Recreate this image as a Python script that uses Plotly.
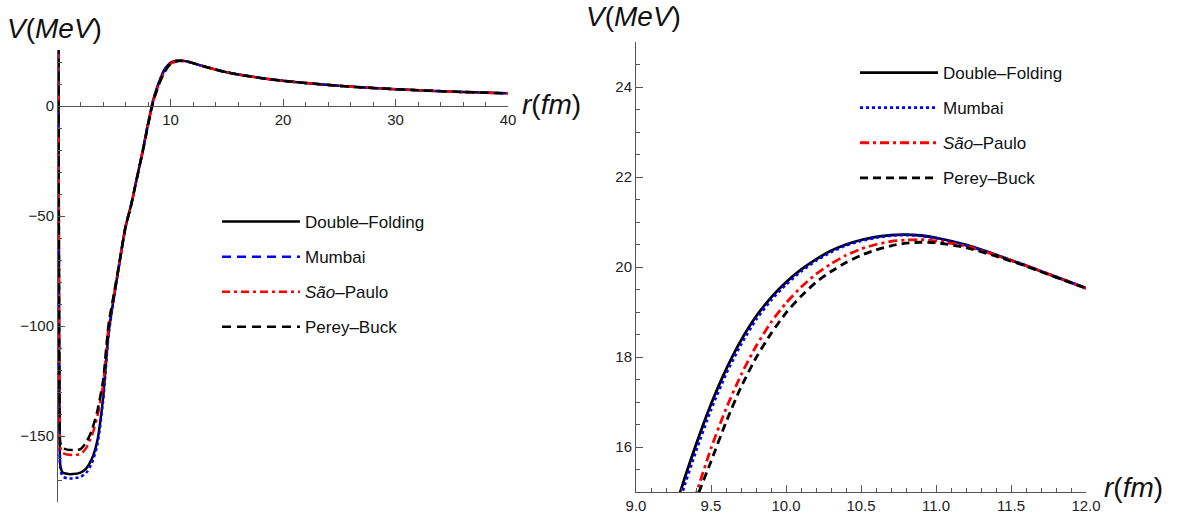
import plotly.graph_objects as go

# ---------------- data: full range (left panel) ----------------
r_full = [0.02, 0.06, 0.1, 0.15, 0.2, 0.4, 0.8, 1.3, 2.0, 2.5, 3.0, 3.5, 4.0, 4.5,
          5.0, 5.5, 6.0, 6.5, 7.0, 7.5, 8.0, 8.5, 9.0, 9.5, 10.0, 10.5, 10.75,
          11.0, 11.5, 12.0, 13.0, 14.0, 15.0, 16.0, 18.0, 20.0, 22.0, 25.0,
          28.0, 30.0, 33.0, 36.0, 40.0]
v_df_full = [60, -20, -110, -150, -163, -166.5, -167.2, -167.3, -166.6, -164.8, -160.5,
             -152, -133, -103, -86, -70, -55, -45, -33, -21, -8, 3.5, 11.2, 16.9,
             19.66, 20.6, 20.72, 20.65, 20.3, 19.53, 18.0, 16.6, 15.4, 14.4, 12.8,
             11.5, 10.5, 9.2, 8.2, 7.7, 7.0, 6.4, 5.8]
v_mu_full = [60, -20, -110, -151, -164.5, -168.3, -169.2, -169.3, -168.6, -166.8, -162.5,
             -154, -134.5, -104, -86.5, -70, -55, -45, -33, -21.1, -8.1, 3.4, 11.1, 16.8,
             19.61, 20.58, 20.71, 20.64, 20.3, 19.53, 18.0, 16.6, 15.4, 14.4, 12.8,
             11.5, 10.5, 9.2, 8.2, 7.7, 7.0, 6.4, 5.8]
v_sp_full = [60, -20, -108, -145, -155, -157.6, -158.4, -158.6, -158.2, -155.5, -150,
             -141, -127, -100, -85, -70, -55, -45, -33, -21.4, -8.6, 2.8, 10.4, 16.0,
             19.2, 20.4, 20.59, 20.58, 20.3, 19.53, 18.0, 16.6, 15.4, 14.4, 12.8,
             11.5, 10.5, 9.2, 8.2, 7.7, 7.0, 6.4, 5.8]
v_pb_full = [60, -20, -107, -143, -153, -155.4, -156.2, -156.4, -156.0, -153, -147.5,
             -138.5, -125, -99, -84.5, -70, -55, -45, -33, -21.6, -8.8, 2.5, 10.1, 15.7,
             18.98, 20.26, 20.51, 20.54, 20.28, 19.53, 18.0, 16.6, 15.4, 14.4, 12.8,
             11.5, 10.5, 9.2, 8.2, 7.7, 7.0, 6.4, 5.8]

# ---------------- data: barrier region (right panel) ----------------
r_zoom = [9.2, 9.3, 9.4, 9.5, 9.6, 9.7, 9.8, 9.9, 10.0, 10.1, 10.2, 10.3, 10.4, 10.5,
          10.6, 10.7, 10.8, 10.9, 11.0, 11.2, 11.4, 11.6, 11.8, 12.0]
v_df_zoom = [13.9, 15.05, 16.05, 16.95, 17.72, 18.37, 18.9, 19.32, 19.66, 19.94, 20.17, 20.36,
             20.5, 20.6, 20.67, 20.71, 20.72, 20.7, 20.65, 20.49, 20.27, 20.03, 19.78, 19.53]
v_mu_zoom = [13.75, 14.9, 15.91, 16.83, 17.62, 18.28, 18.83, 19.26, 19.61, 19.9, 20.14, 20.33,
             20.48, 20.58, 20.65, 20.7, 20.71, 20.69, 20.64, 20.48, 20.27, 20.03, 19.78, 19.53]
v_sp_zoom = [12.7, 13.9, 14.95, 15.97, 16.85, 17.6, 18.24, 18.77, 19.2, 19.55, 19.84, 20.07,
             20.26, 20.4, 20.5, 20.57, 20.6, 20.61, 20.58, 20.46, 20.26, 20.03, 19.78, 19.53]
v_pb_zoom = [12.5, 13.75, 14.82, 15.68, 16.55, 17.33, 17.98, 18.52, 18.98, 19.35, 19.66, 19.9,
             20.1, 20.26, 20.38, 20.47, 20.53, 20.55, 20.54, 20.43, 20.24, 20.02, 19.77, 19.53]

names = ["Double–Folding", "Mumbai", "<i>São</i>–Paulo", "Perey–Buck"]

W, H = 1178, 520
FONT = "Liberation Sans, Arial, sans-serif"
AX = "#555555"


def px_x(p):
    return p / W


def px_y(p):
    return 1 - p / H


fig = go.Figure()

left_styles = [
    dict(color="black", width=2.5, dash="solid"),
    dict(color="#0000FF", width=2.5, dash="3px,3px"),
    dict(color="#FF0000", width=2.5, dash="9px,4px,3px,4px"),
    dict(color="black", width=2.5, dash="9px,5px"),
]
left_legend_styles = [
    dict(color="black", width=2.5, dash="solid"),
    dict(color="#0000FF", width=2.5, dash="9px,6px"),
    dict(color="#FF0000", width=2.5, dash="8px,4px,3px,4px"),
    dict(color="black", width=2.5, dash="9px,6px"),
]
right_styles = [
    dict(color="black", width=2.8, dash="solid"),
    dict(color="#0000FF", width=2.8, dash="3px,3px"),
    dict(color="#FF0000", width=2.8, dash="9px,4px,3px,4px"),
    dict(color="black", width=2.8, dash="8px,5px"),
]

left_series = [v_df_full, v_mu_full, v_sp_full, v_pb_full]
right_series = [v_df_zoom, v_mu_zoom, v_sp_zoom, v_pb_zoom]

for i, v in enumerate(left_series):
    fig.add_trace(go.Scatter(x=r_full, y=v, mode="lines",
                             line=dict(left_styles[i], shape="spline", smoothing=0.6),
                             showlegend=False, xaxis="x", yaxis="y", hoverinfo="skip"))
for i in range(4):
    fig.add_trace(go.Scatter(x=[None], y=[None], mode="lines", line=left_legend_styles[i],
                             name=names[i], legend="legend", legendgroup=f"L{i}",
                             xaxis="x", yaxis="y"))
for i, v in enumerate(right_series):
    fig.add_trace(go.Scatter(x=r_zoom, y=v, mode="lines",
                             line=dict(right_styles[i], shape="spline", smoothing=0.6),
                             name=names[i], legend="legend2", legendgroup=f"R{i}",
                             xaxis="x2", yaxis="y2", hoverinfo="skip"))

axis_common = dict(showgrid=False, zeroline=False, showline=True, linecolor=AX, linewidth=1,
                   ticks="inside", tickcolor=AX, ticklen=7, tickwidth=1,
                   tickfont=dict(family=FONT, size=15, color="#222222"), automargin=False)

leg_common = dict(xanchor="left", yanchor="top", bgcolor="rgba(0,0,0,0)", borderwidth=0,
                  itemwidth=78, font=dict(family=FONT, size=17, color="#111111"),
                  tracegroupgap=10, itemclick=False, itemdoubleclick=False)

fig.update_layout(
    width=W, height=H,
    margin=dict(l=0, r=0, t=0, b=0),
    paper_bgcolor="white", plot_bgcolor="rgba(0,0,0,0)",
    template="none",
    font=dict(family=FONT, color="#222222"),
    xaxis=dict(axis_common, domain=[px_x(58), px_x(508)], range=[0, 40],
               tickvals=[10, 20, 30, 40], anchor="free", position=px_y(106),
               minor=dict(ticks="inside", ticklen=4, dtick=2, tick0=0, tickcolor=AX, showgrid=False)),
    yaxis=dict(axis_common, domain=[px_y(502), px_y(50)], range=[-180, 25.5],
               tickvals=[-150, -100, -50, 0], anchor="x",
               minor=dict(ticks="inside", ticklen=4, dtick=10, tick0=0, tickcolor=AX, showgrid=False)),
    xaxis2=dict(axis_common, domain=[px_x(636), px_x(1086)], range=[9, 12],
                dtick=0.5, tick0=9, tickformat=".1f", anchor="y2",
                minor=dict(ticks="inside", ticklen=4, dtick=0.1, tick0=9, tickcolor=AX, showgrid=False)),
    yaxis2=dict(axis_common, domain=[px_y(492), px_y(42)], range=[15, 25],
                dtick=2, tick0=0, anchor="x2",
                minor=dict(ticks="inside", ticklen=4, dtick=0.5, tick0=0, tickcolor=AX, showgrid=False)),
    legend=dict(leg_common, x=px_x(217), y=px_y(204)),
    legend2=dict(leg_common, x=px_x(855), y=px_y(55)),
    showlegend=True,
)

ann_font = dict(family=FONT, size=28, color="#111111")
fig.add_annotation(text="<i>V</i>(<i>MeV</i>)", xref="paper", yref="paper",
                   x=px_x(5), y=px_y(28), xanchor="left", yanchor="middle",
                   showarrow=False, font=ann_font)
fig.add_annotation(text="<i>r</i>(<i>fm</i>)", xref="paper", yref="paper",
                   x=px_x(520), y=px_y(105), xanchor="left", yanchor="middle",
                   showarrow=False, font=ann_font)
fig.add_annotation(text="<i>V</i>(<i>MeV</i>)", xref="paper", yref="paper",
                   x=px_x(584), y=px_y(17), xanchor="left", yanchor="middle",
                   showarrow=False, font=ann_font)
fig.add_annotation(text="<i>r</i>(<i>fm</i>)", xref="paper", yref="paper",
                   x=px_x(1102), y=px_y(487), xanchor="left", yanchor="middle",
                   showarrow=False, font=ann_font)

# remove the browser's default page margin so the figure fills the window exactly
fig.write_html("out.html",
               config={"displayModeBar": False, "staticPlot": False},
               post_script="document.body.style.margin='0';document.body.style.overflow='hidden';")
